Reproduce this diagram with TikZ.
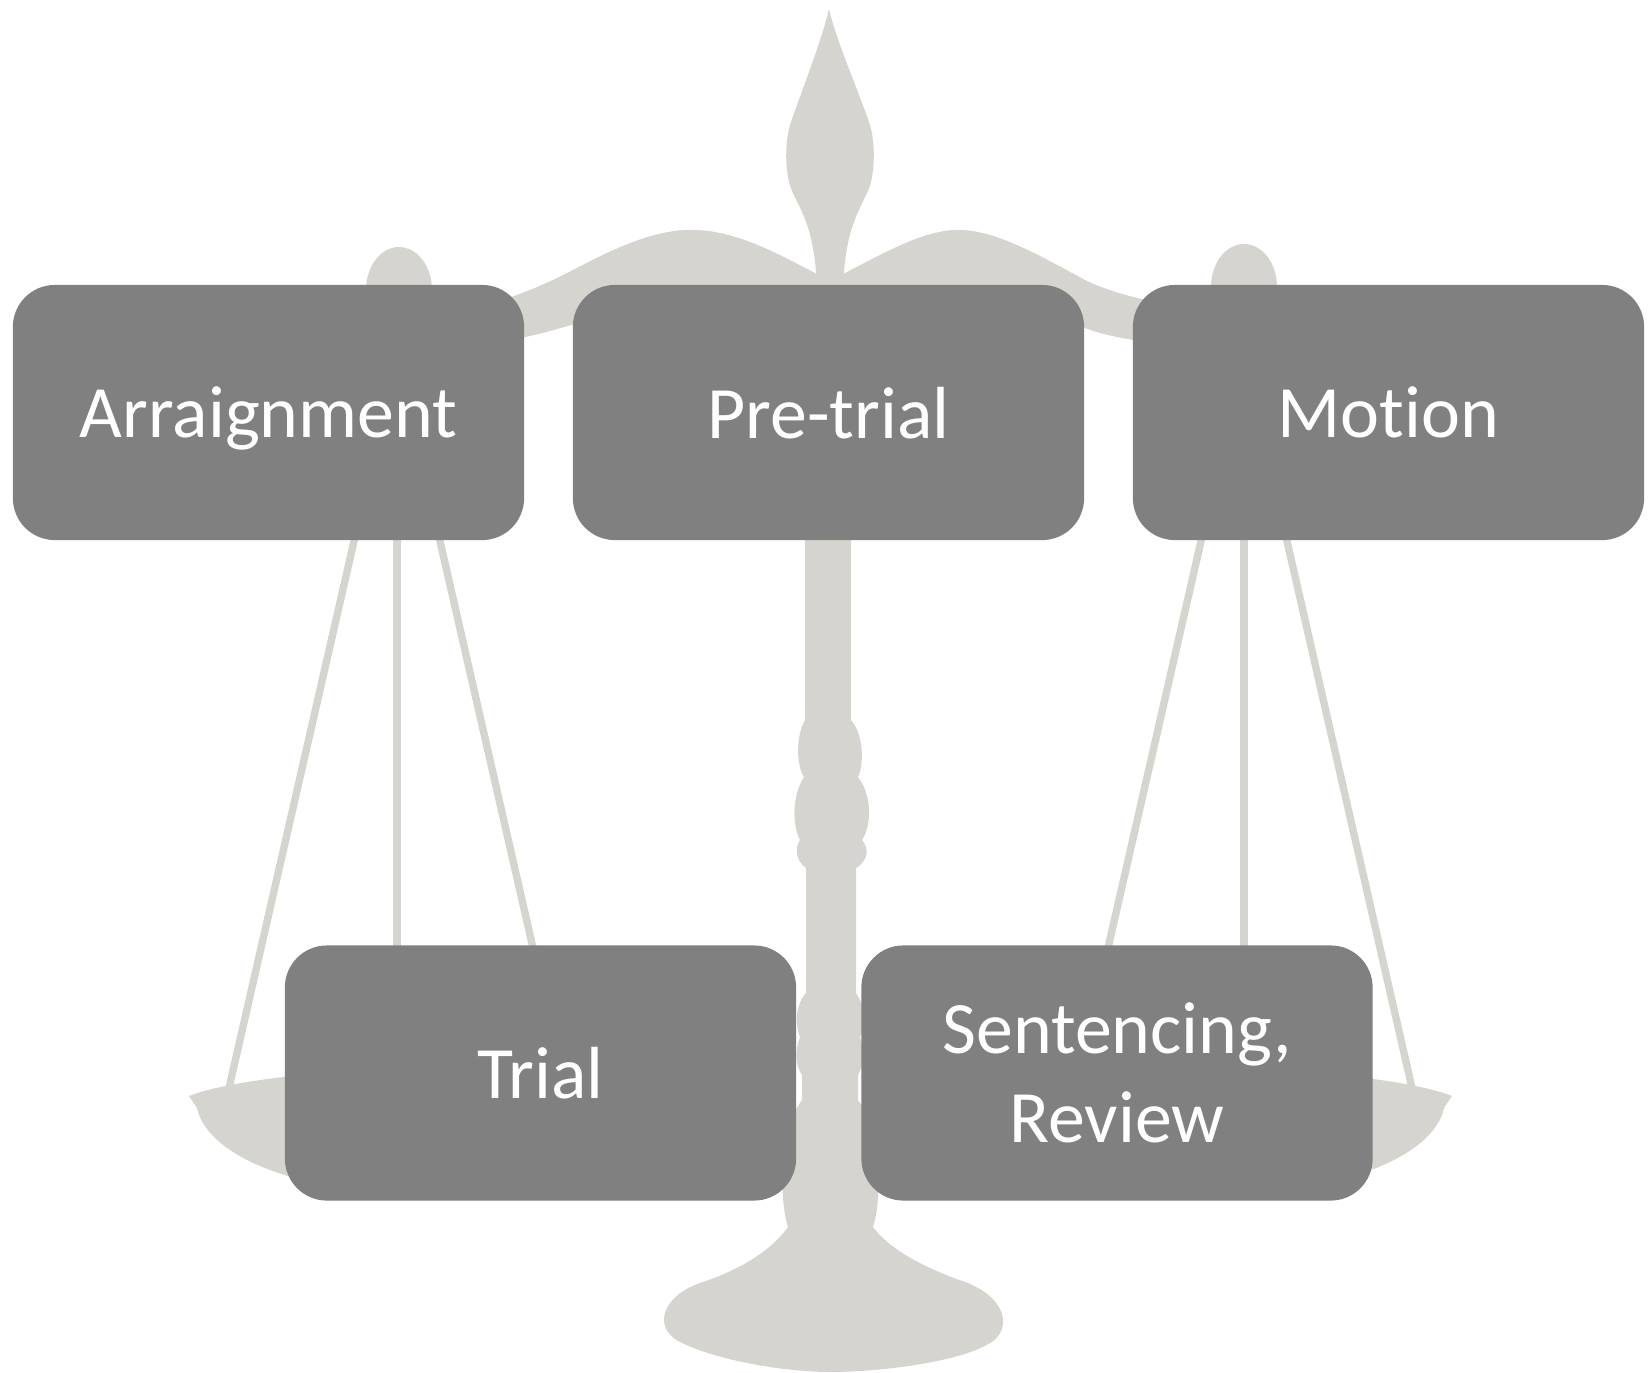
\documentclass[tikz,border=0pt]{standalone}
\usepackage{fontspec}
\setmainfont{Carlito}[Ligatures=NoCommon]
\usepackage{xcolor}
\usepackage{tikz}
\usetikzlibrary{shapes, positioning}
\definecolor{scalegray}{RGB}{213,212,207}
\definecolor{stagegray}{RGB}{128,128,128}

\begin{document}
\begin{tikzpicture}[x=0.01cm, y=-0.01cm,
            stage/.style={fill=stagegray, rounded corners=0.42cm, minimum width=5.11cm, minimum height=2.55cm,
                          text=white, align=center, inner sep=0pt, text depth=0pt, font=\fontsize{21}{25.3}\selectfont},
            rope/.style={draw=scalegray, line width=2.1pt}]
            \useasboundingbox (0,0) rectangle (1648,1372);

            % scales in the background
            \fill[scalegray] (805,290) -- (805,720)
                .. controls (796,735) and (796,765) .. (804,777)
                .. controls (792,795) and (792,825) .. (800,840)
                .. controls (795,848) and (795,860) .. (806,868) -- (806,993)
                .. controls (795,1005) and (795,1025) .. (800,1037)
                .. controls (795,1050) and (795,1065) .. (802,1075) -- (802,1100)
                .. controls (779,1130) and (779,1200) .. (788,1227)
                .. controls (772,1250) and (740,1270) .. (700,1283)
                .. controls (662,1296) and (652,1328) .. (680,1342)
                .. controls (720,1362) and (790,1372) .. (830,1372)
                .. controls (880,1372) and (960,1362) .. (990,1343)
                .. controls (1012,1330) and (1008,1298) .. (965,1282)
                .. controls (925,1268) and (890,1250) .. (873,1227)
                .. controls (882,1200) and (882,1130) .. (858,1100) -- (858,1075)
                .. controls (864,1065) and (864,1050) .. (860,1037)
                .. controls (865,1025) and (865,1005) .. (856,993) -- (856,868)
                .. controls (869,860) and (869,848) .. (862,840)
                .. controls (872,825) and (872,795) .. (858,777)
                .. controls (864,765) and (864,735) .. (851,720) -- (851,290) -- cycle;
            \fill[scalegray] (829,9) .. controls (822,40) and (800,95) .. (790,125)
                .. controls (784,145) and (785,180) .. (794,195)
                .. controls (803,215) and (817,235) .. (817,300) -- (843,300)
                .. controls (843,235) and (857,215) .. (866,195)
                .. controls (875,180) and (876,145) .. (870,125)
                .. controls (860,95) and (836,40) .. (829,9) -- cycle;
            \fill[scalegray] (845,330) -- (845,290) -- (817,274) .. controls (780,255) and (740,232) .. (697,230)
                .. controls (660,228) and (620,245) .. (573,270)
                .. controls (540,287) and (500,305) .. (430,318) -- (420,350)
                .. controls (470,345) and (510,340) .. (525,337)
                .. controls (560,330) and (600,315) .. (640,305)
                .. controls (690,295) and (760,305) .. (845,330) -- cycle;
            \fill[scalegray] (815,330) -- (815,290) -- (843,274) .. controls (880,255) and (920,232) .. (953,230)
                .. controls (990,228) and (1030,250) .. (1085,280)
                .. controls (1110,292) and (1150,305) .. (1230,312) -- (1240,350)
                .. controls (1180,345) and (1150,342) .. (1133,340)
                .. controls (1110,336) and (1095,332) .. (1085,328)
                .. controls (1060,318) and (1040,310) .. (1000,305) -- (815,330) -- cycle;
            \fill[scalegray] (399,290) ellipse [x radius=33, y radius=43];
            \fill[scalegray] (1244,287) ellipse [x radius=33, y radius=43];

            % ropes and pans
            \foreach \px in {397,1244} {
                \coordinate (hook) at (\px,353);
                \draw[rope] (hook) -- ++(-168,735);
                \draw[rope] (hook) -- ++(0,720);
                \draw[rope] (hook) -- ++(168,735);
                \fill[scalegray, shift={(\px,0)}] (-208,1096) .. controls (-167,1080) and (-67,1070) .. (0,1070)
                    .. controls (67,1070) and (167,1080) .. (208,1096) -- (200,1108)
                    .. controls (190,1155) and (103,1190) .. (0,1192)
                    .. controls (-103,1190) and (-190,1155) .. (-200,1108) -- cycle;
            }

            % stages
            \node[stage] (arraign) at (268.5,412.5) {Arraignment};
            \node[stage] (pretrial) at (828.5,412.5) {Pre-trial};
            \node[stage] (motion) at (1388.5,412.5) {Motion};
            \node[stage] (trial) at (540.5,1073) {Trial};
            \node[stage] (sentence) at (1117,1073) {Sentencing,\\Review};
\end{tikzpicture}
\end{document}
